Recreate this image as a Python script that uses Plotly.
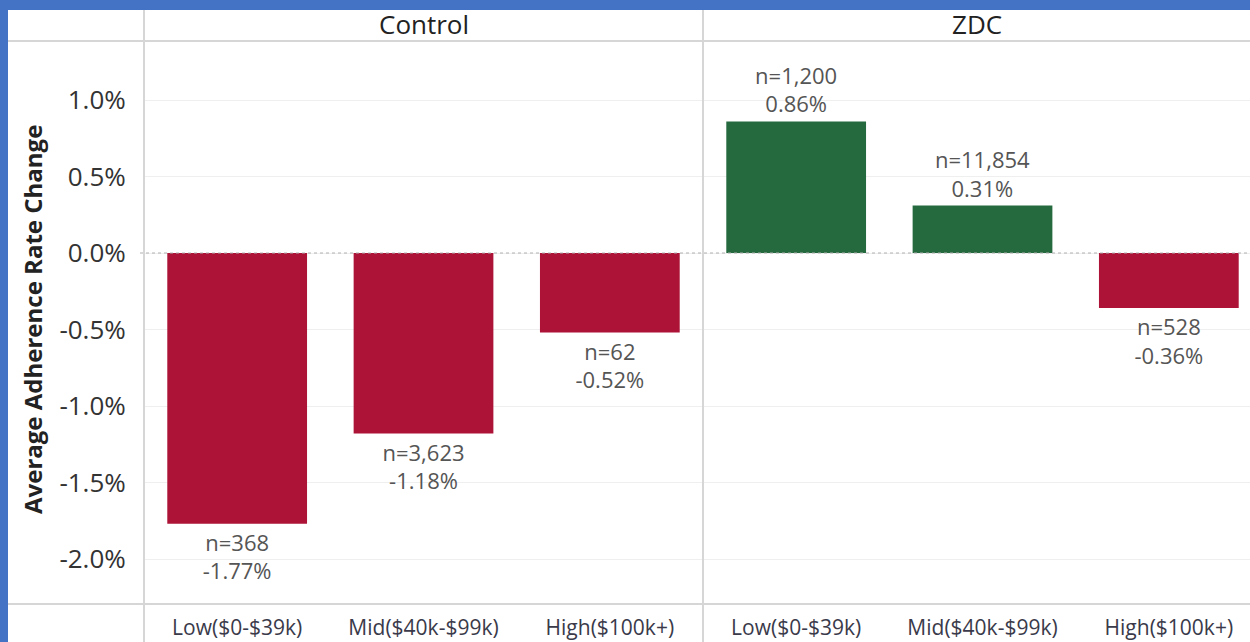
import plotly.graph_objects as go
from plotly.subplots import make_subplots

W, H = 1250, 642

INCOME_GROUPS = ["Low($0-$39k)", "Mid($40k-$99k)", "High($100k+)"]
CONTROL_CHANGE = [-1.77, -1.18, -0.52]
CONTROL_N = [368, 3623, 62]
ZDC_CHANGE = [0.86, 0.31, -0.36]
ZDC_N = [1200, 11854, 528]
Y_TICKS = [1.0, 0.5, 0.0, -0.5, -1.0, -1.5, -2.0]

RED = "#AD1336"
GREEN = "#246A3E"
LINE = "#d6d6d6"
FONT = "Open Sans"

# pixel layout of the panels
LEFT, SEP, BOTTOM, TOP = 144, 703, 604, 41
ZERO_Y, PX_PER_PCT = 253, 153
PANEL_W = SEP - LEFT


def px_x(x):
    return x / W


def px_y(y):
    return 1 - y / H


def bar_colors(values):
    return [GREEN if v >= 0 else RED for v in values]


def bar_text(values, counts):
    return [f"n={n:,}<br>{v:.2f}%" for v, n in zip(values, counts)]


fig = make_subplots(rows=1, cols=2, shared_yaxes=True, horizontal_spacing=0)

for col, (vals, ns) in enumerate([(CONTROL_CHANGE, CONTROL_N), (ZDC_CHANGE, ZDC_N)], start=1):
    fig.add_trace(
        go.Bar(
            x=INCOME_GROUPS,
            y=vals,
            width=0.75,
            marker=dict(color=bar_colors(vals), line=dict(width=0)),
            text=bar_text(vals, ns),
            textposition="outside",
            textfont=dict(family=FONT, size=22, color="#555555"),
            cliponaxis=False,
            showlegend=False,
            hoverinfo="skip",
        ),
        row=1,
        col=col,
    )

fig.update_layout(
    width=W,
    height=H,
    margin=dict(l=0, r=0, t=0, b=0),
    paper_bgcolor="#4472C4",
    plot_bgcolor="rgba(0,0,0,0)",
    font=dict(family=FONT, color="#333333"),
)
fig.update_xaxes(
    showgrid=False,
    zeroline=False,
    showline=False,
    ticks="outside",
    ticklen=5,
    tickcolor="rgba(0,0,0,0)",
    tickfont=dict(family=FONT, size=21, color="#3a3a4a"),
)
# the right panel is cut off by the picture's right edge
cut = (PANEL_W - (W - SEP)) / (PANEL_W / 3)
fig.update_xaxes(domain=[px_x(LEFT), px_x(SEP)], range=[-0.5, 2.5], row=1, col=1)
fig.update_xaxes(domain=[px_x(SEP), 1.0], range=[-0.5, 2.5 - cut], row=1, col=2)
fig.update_yaxes(
    domain=[px_y(BOTTOM), px_y(TOP)],
    range=[-(BOTTOM - ZERO_Y) / PX_PER_PCT, (ZERO_Y - TOP) / PX_PER_PCT],
    tickvals=Y_TICKS,
    ticktext=[f"{v:.1f}%" for v in Y_TICKS],
    tickfont=dict(family=FONT, size=26, color="#333333"),
    ticks="outside",
    ticklen=12,
    tickcolor="rgba(0,0,0,0)",
    showgrid=True,
    gridcolor="#efefef",
    gridwidth=1,
    zeroline=False,
    showline=False,
)

shapes = [
    # white card inside the blue frame
    dict(type="rect", xref="paper", yref="paper", x0=px_x(8), x1=1, y0=0, y1=px_y(10),
         fillcolor="white", line=dict(width=0), layer="below"),
    dict(type="line", xref="paper", yref="paper", x0=px_x(8), x1=1, y0=px_y(TOP), y1=px_y(TOP),
         line=dict(color=LINE, width=2)),
    dict(type="line", xref="paper", yref="paper", x0=px_x(8), x1=1, y0=px_y(BOTTOM), y1=px_y(BOTTOM),
         line=dict(color=LINE, width=2)),
    dict(type="line", xref="paper", yref="paper", x0=px_x(LEFT), x1=px_x(LEFT), y0=0, y1=px_y(10),
         line=dict(color=LINE, width=2)),
    dict(type="line", xref="paper", yref="paper", x0=px_x(SEP), x1=px_x(SEP), y0=0, y1=px_y(10),
         line=dict(color=LINE, width=2)),
    # dotted zero line
    dict(type="line", xref="paper", yref="y", x0=px_x(LEFT - 4), x1=1, y0=0, y1=0,
         line=dict(color="#b0b0b0", width=1, dash="dot")),
]
fig.update_layout(shapes=shapes)

fig.add_annotation(text="Control", xref="paper", yref="paper", x=px_x((LEFT + SEP) / 2),
                   y=px_y(24), xanchor="center", yanchor="middle", showarrow=False,
                   font=dict(family=FONT, size=26, color="#222222"))
fig.add_annotation(text="ZDC", xref="paper", yref="paper", x=px_x((SEP + W) / 2),
                   y=px_y(24), xanchor="center", yanchor="middle", showarrow=False,
                   font=dict(family=FONT, size=26, color="#222222"))
fig.add_annotation(text="<b>Average Adherence Rate Change</b>", xref="paper", yref="paper",
                   x=px_x(32), y=px_y(320), xanchor="center", yanchor="middle",
                   textangle=-90, showarrow=False,
                   font=dict(family=FONT, size=24, color="#222222"))

fig.write_html(
    "out.html",
    config={"displayModeBar": False},
    post_script="document.body.style.margin='0';document.body.style.overflow='hidden';",
)
